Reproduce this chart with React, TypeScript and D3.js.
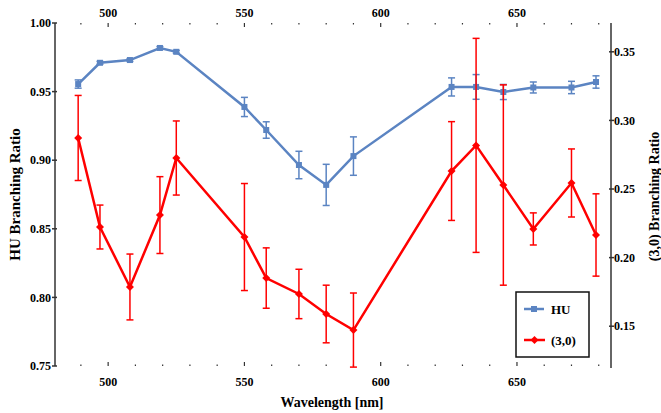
import React from "react";
import * as d3 from "d3";

// wavelengths [nm]
const wavelengths = [489, 497, 508, 519, 525, 550, 558, 570, 580, 590, 626, 635, 645, 656, 670, 679];
// HU branching ratio (left axis)
const huValues = [0.9555, 0.971, 0.973, 0.9818, 0.979, 0.9388, 0.922, 0.8965, 0.882, 0.903, 0.9534, 0.9534, 0.9497, 0.953, 0.953, 0.957];
const huErrors = [0.003, 0.001, 0.001, 0.001, 0.001, 0.007, 0.006, 0.01, 0.015, 0.014, 0.0066, 0.009, 0.0055, 0.004, 0.0045, 0.0045];
// (3,0) branching ratio (right axis)
const r30Values = [0.2872, 0.2223, 0.1786, 0.231, 0.2726, 0.215, 0.1851, 0.1735, 0.1589, 0.1472, 0.2631, 0.2818, 0.2529, 0.2209, 0.2544, 0.2165];
const r30Errors = [0.031, 0.016, 0.024, 0.028, 0.027, 0.039, 0.022, 0.018, 0.021, 0.027, 0.036, 0.078, 0.073, 0.0117, 0.0248, 0.03];

const leftTicks = [0.75, 0.8, 0.85, 0.9, 0.95, 1.0];
const rightTicks = [0.15, 0.2, 0.25, 0.3, 0.35];
const xMajor = [500, 550, 600, 650];
const xMinor = d3.range(490, 690, 10);

const BLUE = "#5b84c2";
const RED = "#ff0000";
const FONT = "Liberation Serif, DejaVu Serif, serif";

const App = () => {
  const width = 661;
  const height = 413;
  const left = 55;
  const right = 611;
  const top = 23;
  const bottom = 366;

  const x = d3.scaleLinear().domain([480.5, 684.5]).range([left, right]);
  const yL = d3.scaleLinear().domain([0.75, 1.0]).range([bottom, top]);
  const yR = d3.scaleLinear().domain([0.121, 0.371]).range([bottom, top]);

  const huLine = d3
    .line<number>()
    .x((_, i) => x(wavelengths[i]))
    .y((d) => yL(d));
  const redLine = d3
    .line<number>()
    .x((_, i) => x(wavelengths[i]))
    .y((d) => yR(d));

  const cap = 3.5;

  return (
    <svg
      width={width}
      height={height}
      style={{ position: "absolute", left: 0, top: 0, background: "#fff", fontFamily: FONT }}
    >
      {/* axes lines */}
      <line x1={left} x2={left} y1={top} y2={bottom} stroke="#333" strokeWidth={1.5} />
      <line x1={right} x2={right} y1={top} y2={bottom + 2} stroke="#333" strokeWidth={1.5} />

      {/* left ticks */}
      {leftTicks.map((t) => (
        <g key={"l" + t}>
          <line x1={left - 3} x2={left + 2} y1={yL(t)} y2={yL(t)} stroke="#333" strokeWidth={1.5} />
          <text x={left - 4} y={yL(t)} dy="0.35em" textAnchor="end" fontSize={12} fontWeight="bold">
            {t.toFixed(2)}
          </text>
        </g>
      ))}
      {/* right ticks */}
      {rightTicks.map((t) => (
        <g key={"r" + t}>
          <line x1={right - 2} x2={right + 3} y1={yR(t)} y2={yR(t)} stroke="#333" strokeWidth={1.5} />
          <text x={right + 3} y={yR(t)} dy="0.35em" textAnchor="start" fontSize={12} fontWeight="bold">
            {t.toFixed(2)}
          </text>
        </g>
      ))}

      {/* x ticks top & bottom */}
      {xMinor.map((t) => {
        const major = xMajor.includes(t);
        return (
          <g key={"x" + t}>
            <line x1={x(t)} x2={x(t)} y1={top} y2={top + (major ? 4 : 1.5)} stroke="#333" strokeWidth={1.2} />
            <line x1={x(t)} x2={x(t)} y1={bottom} y2={bottom - (major ? 4 : 1.5)} stroke="#333" strokeWidth={1.2} />
          </g>
        );
      })}
      {xMajor.map((t) => (
        <g key={"xl" + t}>
          <text x={x(t)} y={13} dy="0.35em" textAnchor="middle" fontSize={12} fontWeight="bold">
            {t}
          </text>
          <text x={x(t)} y={382} dy="0.35em" textAnchor="middle" fontSize={12} fontWeight="bold">
            {t}
          </text>
        </g>
      ))}

      {/* axis titles */}
      <text x={332} y={407} textAnchor="middle" fontSize={14} fontWeight="bold">
        Wavelength [nm]
      </text>
      <text
        transform={`translate(15, ${(top + bottom) / 2}) rotate(-90)`}
        textAnchor="middle"
        dy="0.35em"
        fontSize={15}
        fontWeight="bold"
      >
        HU Branching Ratio
      </text>
      <text
        transform={`translate(654, ${(top + bottom) / 2 + 2}) rotate(-90)`}
        textAnchor="middle"
        dy="0.35em"
        fontSize={14}
        fontWeight="bold"
      >
        (3,0) Branching Ratio
      </text>

      {/* HU series */}
      <g stroke={BLUE} strokeWidth={1.5}>
        {huValues.map((v, i) => {
          const cx = x(wavelengths[i]);
          const y1 = yL(v + huErrors[i]);
          const y2 = yL(v - huErrors[i]);
          return (
            <g key={"he" + i}>
              <line x1={cx} x2={cx} y1={y1} y2={y2} />
              <line x1={cx - cap} x2={cx + cap} y1={y1} y2={y1} />
              <line x1={cx - cap} x2={cx + cap} y1={y2} y2={y2} />
            </g>
          );
        })}
      </g>
      <path d={huLine(huValues) ?? ""} fill="none" stroke={BLUE} strokeWidth={2.5} />
      {huValues.map((v, i) => (
        <rect key={"hm" + i} x={x(wavelengths[i]) - 3} y={yL(v) - 3} width={6} height={6} fill={BLUE} />
      ))}

      {/* (3,0) series */}
      <g stroke={RED} strokeWidth={1.5}>
        {r30Values.map((v, i) => {
          const cx = x(wavelengths[i]);
          const y1 = yR(v + r30Errors[i]);
          const y2 = yR(v - r30Errors[i]);
          return (
            <g key={"re" + i}>
              <line x1={cx} x2={cx} y1={y1} y2={y2} />
              <line x1={cx - cap} x2={cx + cap} y1={y1} y2={y1} />
              <line x1={cx - cap} x2={cx + cap} y1={y2} y2={y2} />
            </g>
          );
        })}
      </g>
      <path d={redLine(r30Values) ?? ""} fill="none" stroke={RED} strokeWidth={2.5} />
      {r30Values.map((v, i) => {
        const cx = x(wavelengths[i]);
        const cy = yR(v);
        return (
          <path key={"rm" + i} d={`M${cx},${cy - 4}L${cx + 4},${cy}L${cx},${cy + 4}L${cx - 4},${cy}Z`} fill={RED} />
        );
      })}

      {/* legend */}
      <g>
        <rect x={516} y={292} width={73} height={65} fill="#fff" stroke="#111" strokeWidth={1.5} />
        <line x1={524} x2={544} y1={309} y2={309} stroke={BLUE} strokeWidth={2.5} />
        <rect x={531} y={306} width={6} height={6} fill={BLUE} />
        <text x={551} y={309} dy="0.35em" fontSize={13} fontWeight="bold">
          HU
        </text>
        <line x1={524} x2={545} y1={340} y2={340} stroke={RED} strokeWidth={2.5} />
        <path d="M534.5,336L538.5,340L534.5,344L530.5,340Z" fill={RED} />
        <text x={551} y={340} dy="0.35em" fontSize={13} fontWeight="bold">
          (3,0)
        </text>
      </g>
    </svg>
  );
};

export default App;
